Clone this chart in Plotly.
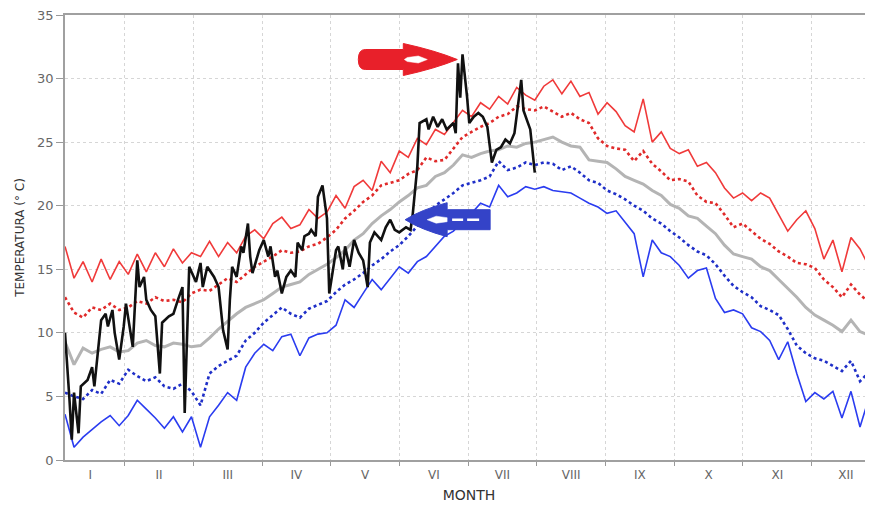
import plotly.graph_objects as go

# ---------------- data ----------------
days = list(range(5, 362, 4))  # day of year of the climatology samples

tmax = [16.8, 14.3, 15.6, 14.0, 15.8, 14.2, 15.6, 14.6, 16.2, 14.8,
        16.3, 15.2, 16.6, 15.5, 16.3, 16.0, 17.2, 16.0, 17.1, 16.3,
        17.6, 18.1, 17.4, 18.6, 19.1, 18.2, 18.5, 19.7, 19.0, 19.5,
        20.8, 19.8, 21.5, 22.0, 21.2, 23.5, 22.6, 24.3, 23.8, 25.3,
        24.8, 26.0, 25.6, 26.6, 27.5, 27.0, 28.1, 27.6, 28.6, 28.0,
        29.3, 28.7, 28.3, 29.4, 29.9, 28.8, 29.8, 28.6, 28.9, 27.2,
        28.1, 27.4, 26.3, 25.8, 28.4, 25.0, 25.8, 24.5, 24.1, 24.4,
        23.1, 23.4, 22.6, 21.4, 20.6, 21.0, 20.4, 21.0, 20.6, 19.3,
        18.0, 18.9, 19.6, 18.2, 15.8, 17.3, 14.8, 17.5, 16.6, 15.2]

tmax_avg = [12.8, 11.6, 11.2, 12.0, 11.8, 12.3, 11.8, 12.0, 12.5, 12.3,
            12.8, 12.5, 12.6, 12.4, 13.1, 13.4, 13.3, 13.8, 14.3, 14.0,
            14.6, 15.2, 15.6, 16.0, 16.5, 16.3, 16.4, 16.8, 17.0, 17.5,
            18.1, 19.0, 19.6, 20.3, 20.8, 21.6, 21.8, 22.0, 22.5, 22.8,
            23.8, 23.5, 23.6, 24.5, 25.4, 25.8, 26.2, 26.5, 27.0, 27.2,
            27.8, 27.6, 27.5, 27.8, 27.4, 27.0, 27.3, 26.8, 26.5, 25.3,
            24.7, 24.5, 24.4, 23.5, 24.3, 23.3, 22.7, 22.0, 22.1, 21.9,
            20.8, 20.3, 20.2, 19.3, 18.3, 18.6, 18.0, 17.4, 17.0, 16.4,
            16.0, 15.5, 15.4, 15.1, 14.2, 13.6, 12.8, 13.8, 13.0, 12.4]

tmean = [9.3, 7.5, 8.8, 8.4, 8.7, 8.9, 8.5, 8.6, 9.2, 9.4,
         9.0, 8.9, 9.2, 9.1, 8.9, 9.0, 9.6, 10.3, 10.9, 11.5,
         12.0, 12.3, 12.6, 13.1, 13.6, 13.8, 14.0, 14.6, 15.0, 15.4,
         15.9, 16.5, 17.3, 17.8, 18.6, 19.2, 19.7, 20.3, 20.8, 21.4,
         21.6, 22.3, 22.6, 23.2, 24.0, 23.8, 24.1, 24.3, 24.4, 24.7,
         24.6, 24.9, 25.0, 25.2, 25.4, 25.0, 24.7, 24.6, 23.6, 23.5,
         23.4, 22.9, 22.3, 22.0, 21.7, 21.2, 20.8, 20.1, 19.8, 19.2,
         19.0, 18.4, 17.8, 16.9, 16.2, 16.0, 15.8, 15.2, 14.9, 14.2,
         13.5, 12.8, 12.0, 11.4, 11.0, 10.6, 10.1, 11.0, 10.1, 9.8]

tmin_avg = [5.3, 5.0, 4.8, 5.5, 5.2, 6.3, 6.0, 7.1, 6.6, 6.2,
            6.5, 5.8, 5.6, 6.0, 5.4, 4.3, 6.8, 7.4, 7.8, 8.2,
            9.4, 10.0, 10.8, 11.4, 12.0, 11.5, 11.2, 11.9, 12.2, 12.5,
            13.2, 13.8, 14.2, 14.7, 15.3, 15.8, 16.4, 16.9, 17.6, 18.4,
            19.3, 20.0, 20.5, 21.0, 21.6, 21.8, 22.0, 22.3, 23.5, 22.8,
            23.0, 23.4, 23.2, 23.4, 23.3, 22.8, 23.1, 22.6, 22.0, 21.8,
            21.2, 20.9, 20.5, 20.0, 19.6, 19.0, 18.6, 18.0, 17.5, 16.9,
            16.4, 16.1, 15.4, 14.5, 13.7, 13.2, 12.8, 12.1, 11.8, 11.4,
            10.3, 9.0, 8.4, 8.0, 7.8, 7.4, 7.0, 7.8, 6.2, 6.9]

tmin = [3.6, 1.0, 1.8, 2.4, 3.0, 3.5, 2.7, 3.5, 4.7, 4.0,
        3.3, 2.5, 3.4, 2.2, 3.4, 1.0, 3.4, 4.3, 5.3, 4.7,
        7.3, 8.4, 9.1, 8.6, 9.7, 9.9, 8.2, 9.6, 9.9, 10.0,
        10.6, 12.6, 12.0, 13.1, 14.2, 13.4, 14.3, 15.2, 14.7, 15.6,
        16.0, 16.8, 17.6, 18.0, 18.8, 19.4, 20.2, 19.9, 21.6, 20.7,
        21.0, 21.5, 21.3, 21.5, 21.2, 21.1, 21.0, 20.6, 20.2, 19.9,
        19.4, 19.6, 18.7, 17.8, 14.4, 17.3, 16.3, 16.0, 15.3, 14.3,
        14.9, 15.1, 12.7, 11.6, 11.8, 11.5, 10.4, 10.1, 9.4, 7.9,
        9.3, 6.8, 4.6, 5.3, 4.8, 5.4, 3.3, 5.4, 2.6, 4.9]

year_days = [5, 6, 7, 8, 9, 11, 12, 15, 17, 18, 20, 21, 23, 24, 26, 27, 29, 31,
             32, 35, 37, 38, 40, 41, 43, 45, 47, 48, 51, 53, 55, 57, 58, 60,
             63, 65, 66, 68, 71, 73, 75, 77, 78, 79, 81, 83, 84, 86, 87, 88,
             91, 93, 95, 96, 98, 99, 101, 103, 105, 107, 108, 110, 111, 113,
             114, 116, 117, 119, 121, 122, 125, 126, 128, 129, 131, 133, 135,
             137, 139, 140, 142, 145, 147, 149, 151, 153, 156, 158, 159, 161,
             162, 165, 166, 168, 170, 172, 174, 177, 178, 179, 180, 181, 183,
             184, 186, 188, 190, 192, 194, 196, 198, 200, 202, 204, 207, 208,
             210, 211, 213]
year_temp = [10.0, 7.6, 4.7, 1.6, 5.3, 2.1, 5.8, 6.3, 7.3, 5.8, 9.4, 11.0, 11.5,
             10.5, 11.8, 10.0, 7.9, 10.5, 12.3, 8.9, 15.7, 13.6, 14.4, 12.6,
             11.8, 11.3, 6.8, 10.8, 11.3, 11.5, 12.6, 13.6, 3.7, 15.2,
             14.0, 15.5, 13.6, 15.2, 14.4, 13.6, 10.2, 8.7, 12.6, 15.2, 14.4,
             16.8, 16.3, 18.6, 16.0, 14.7,
             16.5, 17.3, 16.0, 16.8, 14.4, 14.9, 13.1, 14.4, 14.9, 14.4, 17.1,
             16.5, 17.6, 17.8, 18.1, 17.6, 20.7, 21.6, 19.0, 13.1, 16.5, 16.8,
             15.0, 16.8, 15.2, 17.3, 16.3, 15.7, 13.6, 17.1, 17.9, 17.3, 18.3,
             18.9, 18.1, 17.9, 18.3, 18.1, 19.4, 23.1, 26.5, 26.8, 26.0, 27.0,
             26.2, 26.8, 26.0, 26.5, 25.7, 31.2, 28.5, 31.9, 28.6, 26.5, 27.0,
             27.3, 27.0, 26.2, 23.4, 24.4, 24.6, 25.2, 24.9, 25.7, 29.9, 27.5,
             26.5, 26.0, 22.6]

month_labels = ["I", "II", "III", "IV", "V", "VI", "VII", "VIII", "IX", "X", "XI", "XII"]
y_ticks = [0, 5, 10, 15, 20, 25, 30, 35]

# month boundaries / centres (equal-width months, day-of-year units)
month_len = 365 / 12
boundaries = [1 + month_len * k for k in range(1, 12)]
centres = [1 + month_len * (k + 0.5) for k in range(12)]

# arrow tips (day, temperature)
red_tip = (178.7, 31.5)
blue_tip = (155.6, 18.9)

# ---------------- figure ----------------
fig = go.Figure()

fig.add_trace(go.Scatter(x=days, y=tmax, mode="lines",
                         line=dict(color="#f03a3a", width=1.6)))
fig.add_trace(go.Scatter(x=days, y=tmax_avg, mode="lines",
                         line=dict(color="#e02a2a", width=2.6, dash="dot")))
fig.add_trace(go.Scatter(x=days, y=tmean, mode="lines",
                         line=dict(color="#b4b4b4", width=3)))
fig.add_trace(go.Scatter(x=days, y=tmin_avg, mode="lines",
                         line=dict(color="#1f2fc8", width=2.6, dash="dot")))
fig.add_trace(go.Scatter(x=days, y=tmin, mode="lines",
                         line=dict(color="#2a3cf0", width=1.6)))
fig.add_trace(go.Scatter(x=year_days, y=year_temp, mode="lines",
                         line=dict(color="#111111", width=2.6)))

# block arrows drawn in pixel units around their tips
red_body = ("M 0,0 Q -22,9 -54,16 L -54,10 L -92,10 Q -99,10 -99,0 "
            "Q -99,-10 -92,-10 L -54,-10 L -54,-16 Q -22,-9 0,0 Z")
red_inner = "M -30,0 L -39,3.5 L -50,2 L -53,0 L -50,-2 L -39,-3.5 Z"
blue_body = "M 0,0 Q 16,10 42,17 L 42,10 L 85,10 L 85,-10 L 42,-10 L 42,-17 Q 16,-10 0,0 Z"
blue_inner = "M 22,0 L 31,3.5 L 42,2 L 42,-2 L 31,-3.5 Z"
blue_dash = "M 47,0 L 58,0 M 62,0 L 74,0"

shapes = []
for path, tip, fill, lc, lw in [
    (red_body, red_tip, "#e8202a", "#e8202a", 1),
    (red_inner, red_tip, "white", "white", 0.5),
    (blue_body, blue_tip, "#3443c8", "#3443c8", 1),
    (blue_inner, blue_tip, "white", "white", 0.5),
]:
    shapes.append(dict(type="path", xref="x", yref="y", xsizemode="pixel", ysizemode="pixel",
                       xanchor=tip[0], yanchor=tip[1], path=path,
                       fillcolor=fill, line=dict(color=lc, width=lw)))
shapes.append(dict(type="path", xref="x", yref="y", xsizemode="pixel", ysizemode="pixel",
                   xanchor=blue_tip[0], yanchor=blue_tip[1], path=blue_dash,
                   line=dict(color="white", width=2.5)))

grid_col = "#d6d6d6"
# page has an 8px body margin, so the figure is sized/offset to compensate
fig.update_layout(
    width=865, height=500,
    margin=dict(l=57, r=0, t=7, b=48, autoexpand=False),
    paper_bgcolor="white", plot_bgcolor="white",
    showlegend=False,
    shapes=shapes,
    font=dict(family="DejaVu Sans, sans-serif", color="#555555"),
    xaxis=dict(
        range=[5, 362.75], automargin=False, ticklabeloverflow="allow",
        tickmode="array", tickvals=centres, ticktext=month_labels,
        ticks="outside", ticklen=3, tickcolor="rgba(0,0,0,0)",
        tickfont=dict(size=12, color="#666666"),
        showgrid=False, zeroline=False,
        showline=True, linecolor="#a0a0a0", linewidth=1.5, mirror=True,
        minor=dict(tickmode="array", tickvals=boundaries, ticks="outside", ticklen=4,
                   tickcolor="#999999", showgrid=True, gridcolor=grid_col,
                   griddash="dot", gridwidth=1),
        title=dict(text="MONTH", font=dict(size=14, color="#333333"), standoff=9),
    ),
    yaxis=dict(
        range=[0, 35], automargin=False, ticklabeloverflow="allow",
        tickmode="array", tickvals=y_ticks,
        ticks="outside", ticklen=7, tickcolor="#999999",
        tickfont=dict(size=13, color="#666666"),
        showgrid=True, gridcolor=grid_col, griddash="dot", gridwidth=1,
        zeroline=False,
        showline=True, linecolor="#a0a0a0", linewidth=1.5,
        title=dict(text="TEMPERATURA (° C)", font=dict(size=12, color="#333333"), standoff=10),
    ),
)

fig.write_html("out.html")
